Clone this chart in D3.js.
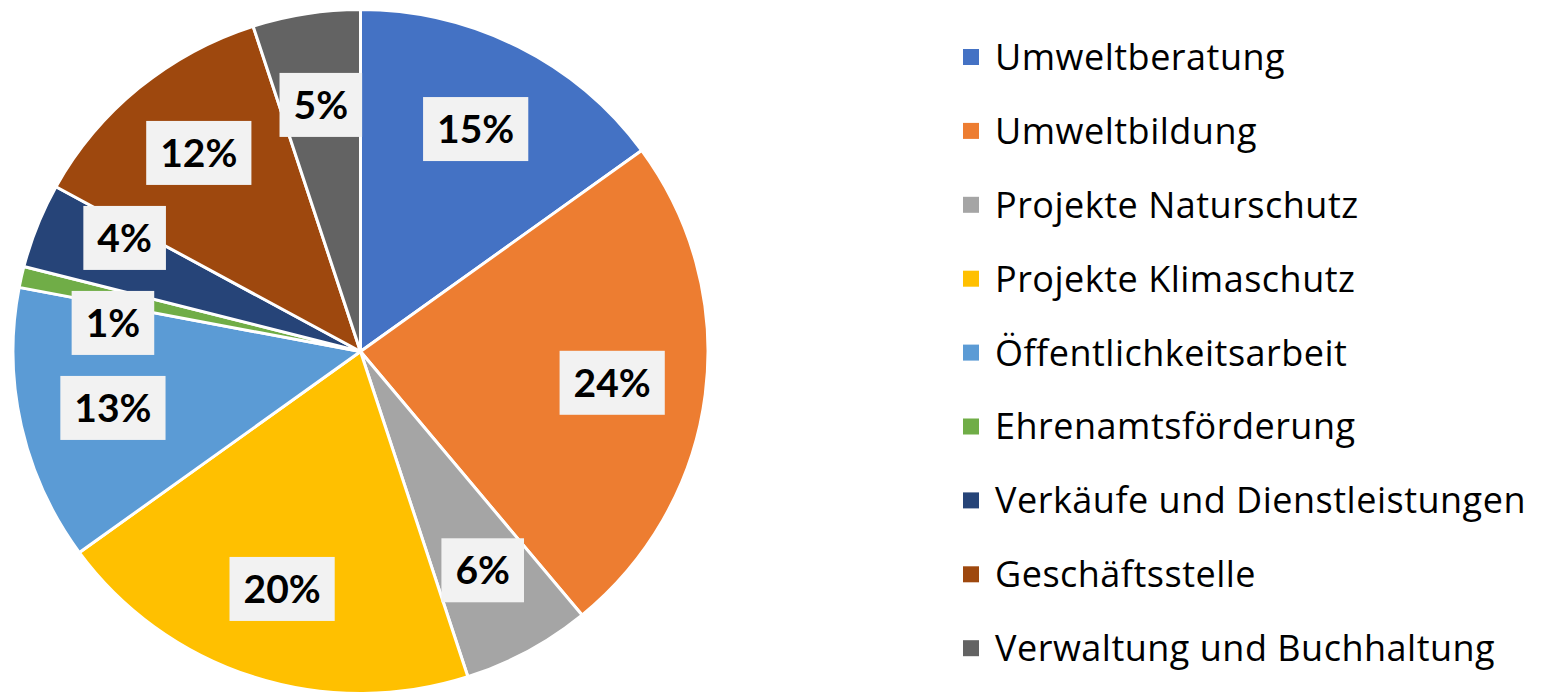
<!DOCTYPE html>
<html>
<head>
<meta charset="utf-8">
<script src="https://cdn.jsdelivr.net/npm/d3@7"></script>
<style>
    html, body { margin: 0; padding: 0; background: #fff; }
    svg { display: block; }
</style>
</head>
<body>
<div id="pie-chart"></div>
<script>
(() => {
    const categories = [
        'Umweltberatung',
        'Umweltbildung',
        'Projekte Naturschutz',
        'Projekte Klimaschutz',
        'Öffentlichkeitsarbeit',
        'Ehrenamtsförderung',
        'Verkäufe und Dienstleistungen',
        'Geschäftsstelle',
        'Verwaltung und Buchhaltung',
    ];
    const shares = [15, 24, 6, 20, 13, 1, 4, 12, 5];
    const colors = ['#4472C4', '#ED7D31', '#A5A5A5', '#FFC000', '#5B9BD5', '#70AD47', '#264478', '#9E480E', '#636363'];

    const width = 1541;
    const height = 694;
    const cx = 360.5;
    const cy = 351.5;
    const radius = 347.5;
    const squash = 342 / 347.5; // picture is a touch flatter than wide

    const data = categories.map((name, i) => ({ name, value: shares[i], color: colors[i] }));

    const svg = d3.select('#pie-chart')
        .append('svg')
        .attr('width', width)
        .attr('height', height);

    const pie = d3.pie()
        .sort(null)
        .value(d => d.value);

    const arcs = pie(data);

    const arc = d3.arc()
        .innerRadius(0)
        .outerRadius(radius);

    const labelArc = d3.arc()
        .innerRadius(radius * 0.73)
        .outerRadius(radius * 0.73);

    svg.append('g')
        .attr('transform', `translate(${cx},${cy}) scale(1,${squash})`)
        .selectAll('path')
        .data(arcs)
        .enter()
        .append('path')
        .attr('d', arc)
        .attr('fill', d => d.data.color)
        .attr('stroke', '#fff')
        .attr('stroke-width', 3)
        .attr('stroke-linejoin', 'round');

    // label anchor points, then push apart the ones that collide (thin slices)
    const boxH = 64;
    const minGap = 85;
    const spots = arcs.map(d => {
        const [x, y] = labelArc.centroid(d);
        return { x: cx + x, y: cy + y * squash, w: 0 };
    });

    const labels = svg.append('g')
        .selectAll('g')
        .data(arcs)
        .enter()
        .append('g');

    labels.append('rect').attr('fill', '#F2F2F2');

    labels.append('text')
        .attr('text-anchor', 'middle')
        .attr('dy', '0.36em')
        .style('font-family', 'Lato, "Open Sans", sans-serif')
        .style('font-weight', 'bold')
        .style('font-size', '39px')
        .attr('fill', '#000')
        .text(d => `${d.data.value}%`);

    labels.each(function (d, i) {
        const w = d3.select(this).select('text').node().getComputedTextLength();
        spots[i].w = w + 28;
    });

    for (let iter = 0; iter < 30; iter++) {
        for (let i = 0; i < spots.length; i++) {
            for (let j = i + 1; j < spots.length; j++) {
                const a = spots[i];
                const b = spots[j];
                const overlapX = Math.abs(a.x - b.x) < (a.w + b.w) / 2;
                const dy = b.y - a.y;
                if (overlapX && Math.abs(dy) < minGap) {
                    const push = (minGap - Math.abs(dy)) / 2;
                    const dir = dy >= 0 ? 1 : -1;
                    a.y -= push * dir;
                    b.y += push * dir;
                }
            }
        }
    }

    labels.attr('transform', (d, i) => `translate(${spots[i].x},${spots[i].y})`);

    labels.select('rect')
        .attr('x', (d, i) => -spots[i].w / 2)
        .attr('y', -boxH / 2)
        .attr('width', (d, i) => spots[i].w)
        .attr('height', boxH);

    // legend
    const legendX = 963;
    const legendTop = 57;
    const legendStep = 73.9;

    const legend = svg.append('g')
        .selectAll('g')
        .data(data)
        .enter()
        .append('g')
        .attr('transform', (d, i) => `translate(${legendX},${legendTop + i * legendStep})`);

    legend.append('rect')
        .attr('x', 0)
        .attr('y', -8)
        .attr('width', 16)
        .attr('height', 16)
        .attr('fill', d => d.color);

    legend.append('text')
        .attr('x', 32)
        .attr('dy', '0.36em')
        .style('font-family', '"Open Sans", Lato, sans-serif')
        .style('font-size', '36px')
        .style('letter-spacing', '0.5px')
        .attr('fill', '#000')
        .text(d => d.name);
})();
</script>
</body>
</html>
